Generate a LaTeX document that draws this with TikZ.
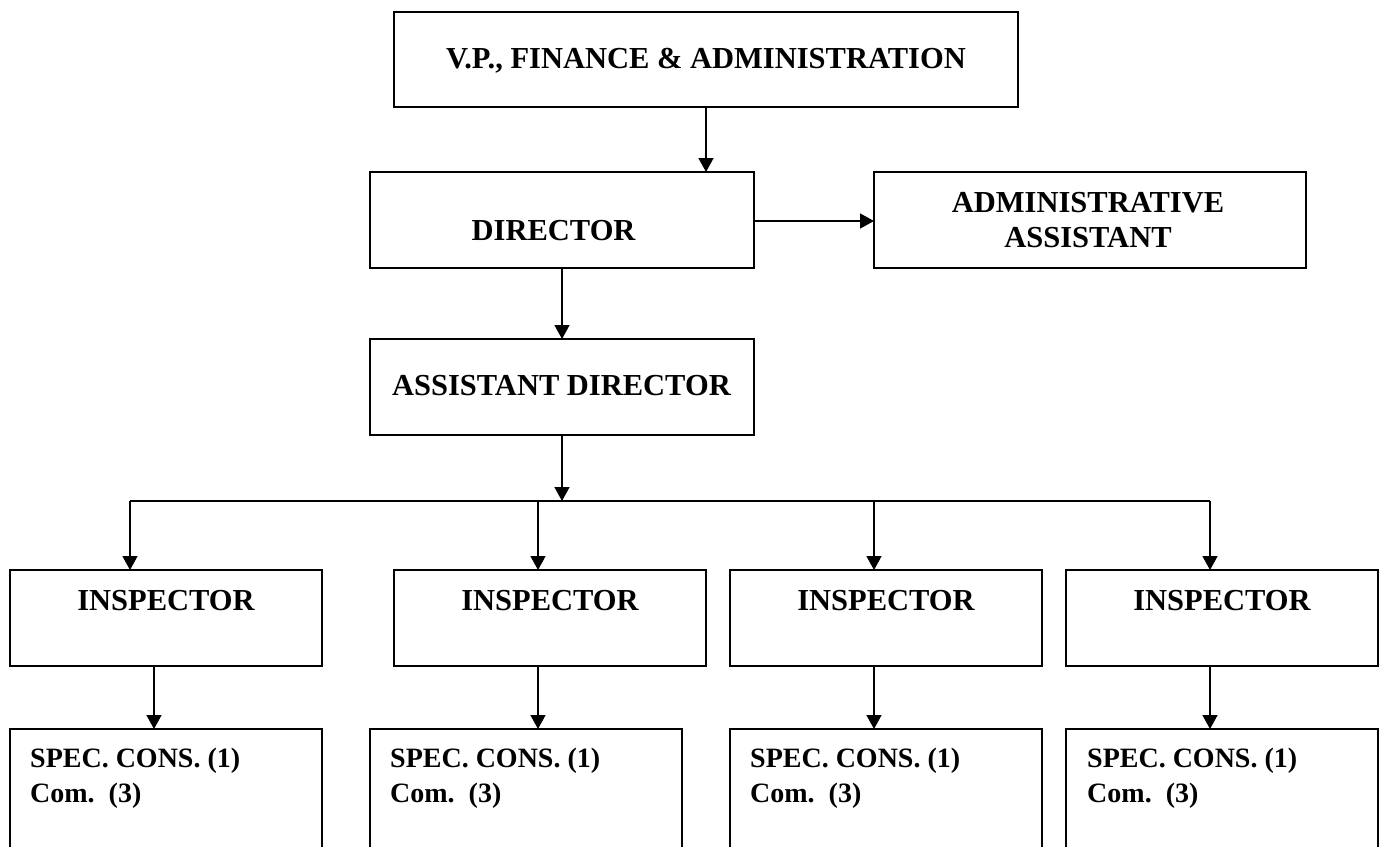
\documentclass[tikz,border=0pt]{standalone}
\usepackage{fontspec}
\setmainfont{Liberation Serif}
\usetikzlibrary{arrows.meta}
\begin{document}
\begin{tikzpicture}[x=1pt,y=-1pt,
  box/.style={draw,line width=1.5pt,inner sep=0pt,outer sep=0pt},
  big/.style={font=\fontsize{30.5}{35}\selectfont\bfseries\frenchspacing, inner sep=0pt, anchor=base},
  small/.style={font=\fontsize{28}{35}\selectfont\bfseries\frenchspacing, inner sep=0pt, anchor=base west},
  arr/.style={line width=1.5pt,-{Triangle[length=14pt,width=15pt]}},
  ln/.style={line width=1.5pt}]
\useasboundingbox (0,0) rectangle (1384,846);
\clip (0,0) rectangle (1384,846);
\fill[white] (0,0) rectangle (1384,846);

% boxes
\node[box,minimum width=624pt,minimum height=95pt] (vp) at (706,59.5) {};
\node[box,minimum width=384pt,minimum height=96pt] (dir) at (562,220) {};
\node[box,minimum width=432pt,minimum height=96pt] (adm) at (1090,220) {};
\node[box,minimum width=384pt,minimum height=96pt] (ad) at (562,387) {};
\foreach \n/\c in {1/166,2/550,3/886,4/1222}{
  \node[box,minimum width=312pt,minimum height=96pt] (i\n) at (\c,618) {};
}
\foreach \n/\c in {1/166,2/526,3/886,4/1222}{
  \node[box,minimum width=312pt,minimum height=141pt] (s\n) at (\c,799.5) {};
}

% texts
\node[big] (tvp) at (706,68) {V.P., FINANCE \& ADMINISTRATION};
\node[big] (tdir) at (553.6,240) {DIRECTOR};
\node[big] (tadm1) at (1088,212) {ADMINISTRATIVE};
\node[big] (tadm2) at (1088,247) {ASSISTANT};
\node[big] (tad) at (561.5,395) {ASSISTANT DIRECTOR};
\foreach \n/\c in {1/166,2/550,3/886,4/1222}{
  \node[big] (ti\n) at (\c,610) {INSPECTOR};
}
\foreach \n/\x in {1/30,2/390,3/750,4/1087}{
  \node[small] (ts\n a) at (\x,767) {SPEC. CONS. (1)};
  \node[small] (ts\n b) at (\x,802) {Com.\ \ (3)};
}

% connector coordinates
\coordinate (bus) at (562,501);
\coordinate (d1) at (130,501);
\coordinate (d2) at (538,501);
\coordinate (d3) at (874,501);
\coordinate (d4) at (1210,501);
\coordinate (e1) at (154,700);
\coordinate (e2) at (538,700);
\coordinate (e3) at (874,700);
\coordinate (e4) at (1210,700);

% connectors
\draw[arr] (vp.south) -- (vp.south |- dir.north);
\draw[arr] (dir.east |- 0,221) -- (adm.west |- 0,221);
\draw[arr] (dir.south) -- (ad.north);
\draw[arr] (ad.south) -- (bus);
\draw[ln] (d1) -- (d4);
\foreach \n in {1,2,3,4}{
  \draw[arr] (d\n) -- (d\n |- i\n.north);
  \draw[arr] (i\n.south -| e\n) -- (s\n.north -| e\n);
}
\end{tikzpicture}
\end{document}
